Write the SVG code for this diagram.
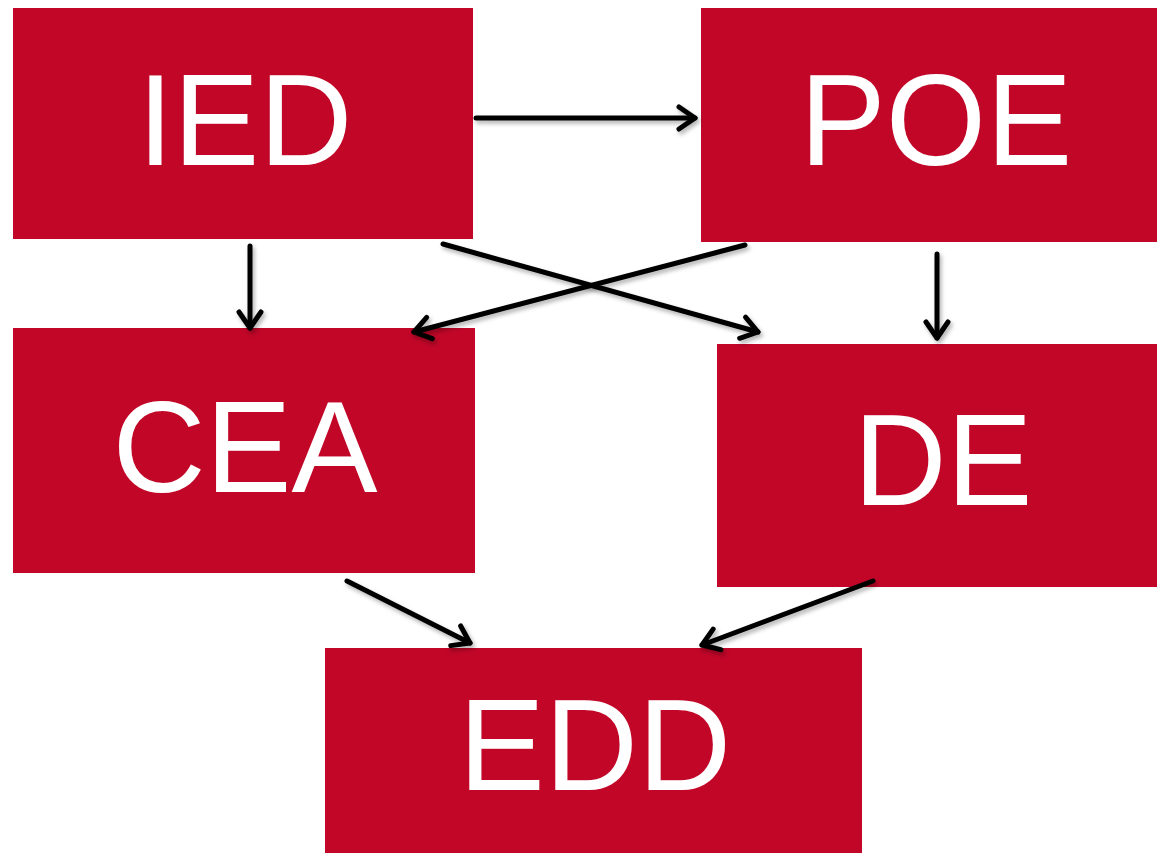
<svg xmlns="http://www.w3.org/2000/svg" width="1157" height="853" viewBox="0 0 1157 853">
<style>
.box{fill:#C10628}
.lbl{font-family:"Liberation Sans",Arial,sans-serif;font-size:129px;fill:#fff;text-anchor:middle}
.edge{stroke:#000;stroke-width:5;fill:none;stroke-linecap:round;marker-end:url(#ah);filter:url(#sh)}
</style>
<defs>
<marker id="ah" markerUnits="userSpaceOnUse" viewBox="-20 -14 24 28" markerWidth="24" markerHeight="28" refX="0" refY="0" orient="auto" overflow="visible">
<path d="M-16,-11 L0,0 L-16,11" fill="none" stroke="#000" stroke-width="5" stroke-linecap="round" stroke-linejoin="round"/>
</marker>
<filter id="sh" filterUnits="userSpaceOnUse" x="0" y="0" width="1157" height="853">
<feDropShadow dx="2" dy="3" stdDeviation="2" flood-color="#000" flood-opacity="0.3"/>
</filter>
</defs>
<g id="IED"><rect class="box" x="13" y="8" width="460" height="231"/><text class="lbl" x="245" y="165">IED</text></g>
<g id="POE"><rect class="box" x="701" y="8" width="456" height="234"/><text class="lbl" x="936" y="165">POE</text></g>
<g id="CEA"><rect class="box" x="13" y="328" width="462" height="245"/><text class="lbl" x="245" y="492">CEA</text></g>
<g id="DE"><rect class="box" x="717" y="344" width="440" height="243"/><text class="lbl" x="943" y="505">DE</text></g>
<g id="EDD"><rect class="box" x="325" y="648" width="537" height="205"/><text class="lbl" x="595" y="790">EDD</text></g>
<g id="connectors">
<line class="edge" x1="476" y1="118" x2="695" y2="118"/>
<line class="edge" x1="250" y1="246" x2="250" y2="328"/>
<line class="edge" x1="443" y1="244" x2="758" y2="332"/>
<line class="edge" x1="745" y1="245" x2="414" y2="332"/>
<line class="edge" x1="937" y1="254" x2="937" y2="338"/>
<line class="edge" x1="347" y1="581" x2="470" y2="643"/>
<line class="edge" x1="873" y1="581" x2="702" y2="645"/>
</g>
</svg>
